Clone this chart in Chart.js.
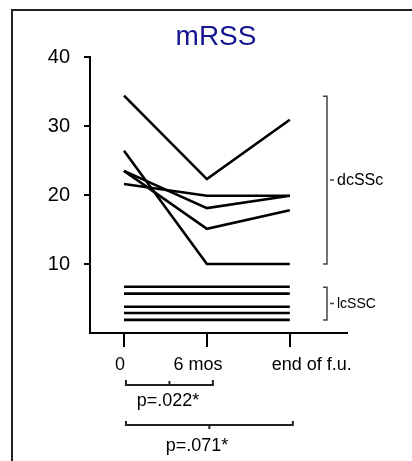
<!DOCTYPE html>
<html>
<head>
<meta charset="utf-8">
<script src="https://cdn.jsdelivr.net/npm/chart.js@4.4.0/dist/chart.umd.min.js"></script>
<style>
  html, body { margin: 0; padding: 0; background: #fff; }
</style>
</head>
<body>
<canvas id="mrss" width="412" height="461"></canvas>
<script>
// time points on the x axis
const categories = ['0', '6 mos', 'end of f.u.'];

// diffuse cutaneous SSc patients (mRSS at each time point)
const dcSSc1 = [34.4, 22.3, 30.9];
const dcSSc2 = [26.4, 10.0, 10.0];
const dcSSc3 = [23.5, 15.1, 17.8];
const dcSSc4 = [23.5, 18.1, 19.9];
const dcSSc5 = [21.6, 19.9, 19.9];

// limited cutaneous SSc patients
const lcSSc1 = [6.7, 6.7, 6.7];
const lcSSc2 = [5.7, 5.7, 5.7];
const lcSSc3 = [3.8, 3.8, 3.8];
const lcSSc4 = [2.9, 2.9, 2.9];
const lcSSc5 = [1.9, 1.9, 1.9];

const yTicks = [10, 20, 30, 40];
const pValues = ['p=.022*', 'p=.071*'];

const dcGroup = [dcSSc1, dcSSc2, dcSSc3, dcSSc4, dcSSc5];
const lcGroup = [lcSSc1, lcSSc2, lcSSc3, lcSSc4, lcSSc5];

const FONT = '"Liberation Sans", Arial, sans-serif';

function toPoints(arr) {
  return arr.map((v, i) => ({ x: i, y: v }));
}

const datasets = dcGroup.concat(lcGroup).map((arr, i) => ({
  label: (i < 5 ? 'dcSSc ' : 'lcSSc ') + (i % 5 + 1),
  data: toPoints(arr),
  borderColor: '#000',
  borderWidth: 2.6,
  pointRadius: 0,
  tension: 0,
  fill: false,
  clip: false
}));

// frame, title, x labels, brackets
const decor = {
  id: 'decor',
  beforeDraw(chart) {
    const c = chart.ctx;
    c.save();
    c.strokeStyle = '#222';
    c.lineWidth = 2;
    c.beginPath();
    c.moveTo(12, 461);
    c.lineTo(12, 10);
    c.lineTo(412, 10);
    c.stroke();
    c.restore();
  },
  afterDraw(chart) {
    const c = chart.ctx;
    const xs = chart.scales.x, ys = chart.scales.y;
    c.save();

    // title
    c.fillStyle = '#15158f';
    c.font = '28px ' + FONT;
    c.textAlign = 'center';
    c.textBaseline = 'middle';
    c.fillText('mRSS', 216, 37);

    // x tick labels (slightly off-centre like the original)
    const shift = [-4, -9, 22];
    c.fillStyle = '#000';
    c.font = '18px ' + FONT;
    categories.forEach((t, i) => {
      c.fillText(t, xs.getPixelForValue(i) + shift[i], 365);
    });

    // group brackets on the right
    c.strokeStyle = '#444';
    c.lineWidth = 1.5;
    const bx = xs.right - 20;
    function groupBracket(group, name, size) {
      const all = group.flat();
      const top = ys.getPixelForValue(Math.max(...all)) + 0.5;
      const bot = ys.getPixelForValue(Math.min(...all));
      const mid = (top + bot) / 2;
      c.beginPath();
      c.moveTo(bx - 4, top); c.lineTo(bx, top); c.lineTo(bx, bot); c.lineTo(bx - 4, bot);
      c.moveTo(bx + 3, mid); c.lineTo(bx + 7, mid);
      c.stroke();
      c.font = size + 'px ' + FONT;
      c.textAlign = 'left';
      c.fillText(name, bx + 10, mid + 1);
    }
    groupBracket(dcGroup, 'dcSSc', 16);
    groupBracket(lcGroup, 'lcSSC', 14);

    // significance brackets under the axis
    const x0 = xs.getPixelForValue(0) + 2;
    const x1 = xs.getPixelForValue(1) + 6;
    const x2 = xs.getPixelForValue(2) + 3;
    c.strokeStyle = '#222';
    c.lineWidth = 2;
    c.beginPath();
    c.moveTo(x0, 380); c.lineTo(x0, 385); c.lineTo(x1, 385); c.lineTo(x1, 380);
    c.moveTo((x0 + x1) / 2, 385); c.lineTo((x0 + x1) / 2, 381);
    c.moveTo(x0, 421); c.lineTo(x0, 425); c.lineTo(x2, 425); c.lineTo(x2, 421);
    c.moveTo((x0 + x2) / 2, 425); c.lineTo((x0 + x2) / 2, 429);
    c.stroke();

    c.textAlign = 'center';
    c.fillStyle = '#000';
    c.font = '18px ' + FONT;
    c.fillText(pValues[0], 168, 401);
    c.fillText(pValues[1], 197, 446);
    c.restore();
  }
};

new Chart(document.getElementById('mrss'), {
  type: 'line',
  data: { datasets: datasets },
  plugins: [decor],
  options: {
    responsive: false,
    animation: false,
    layout: { padding: { top: 57, right: 65, left: 0, bottom: 0 } },
    plugins: {
      legend: { display: false },
      tooltip: { enabled: false },
      title: { display: false }
    },
    scales: {
      x: {
        type: 'linear',
        min: -0.41,
        max: 2.69,
        afterBuildTicks: (scale) => { scale.ticks = categories.map((_, i) => ({ value: i })); },
        afterFit: (scale) => { scale.height = 128; },
        ticks: { display: false },
        grid: { drawOnChartArea: false, drawTicks: true, tickLength: 14, color: '#000', lineWidth: 2 },
        border: { display: true, color: '#000', width: 2 }
      },
      y: {
        type: 'linear',
        min: 0,
        max: 40,
        afterBuildTicks: (scale) => { scale.ticks = yTicks.map(v => ({ value: v })); },
        afterFit: (scale) => { scale.width = 90; },
        ticks: { color: '#000', font: { family: FONT, size: 20 }, padding: 14 },
        grid: { drawOnChartArea: false, drawTicks: true, tickLength: 6, color: '#000', lineWidth: 2 },
        border: { display: true, color: '#000', width: 2 }
      }
    }
  }
});
</script>
</body>
</html>
